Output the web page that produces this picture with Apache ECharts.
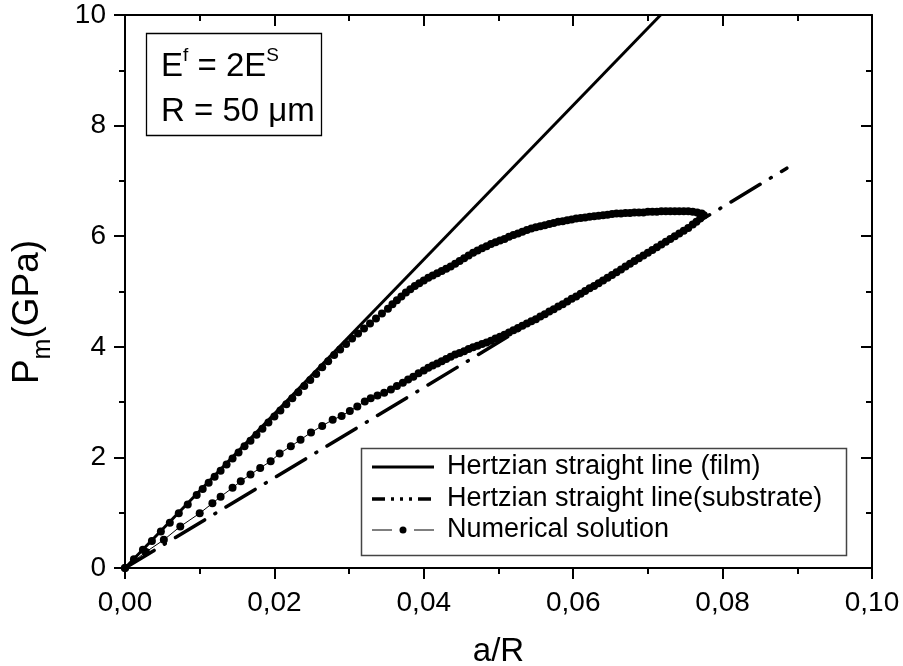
<!DOCTYPE html>
<html>
<head>
<meta charset="utf-8">
<script src="https://cdn.jsdelivr.net/npm/echarts@6/dist/echarts.min.js"></script>
<style>
  html, body { margin: 0; padding: 0; background: #fff; }
  #chart { width: 903px; height: 666px; }
</style>
</head>
<body>
<div id="chart"></div>
<script>
const FONT = 'Arial, "Liberation Sans", sans-serif';

// Hertzian straight lines: end points as (a/R, Pm in GPa)
const filmLine = [[0, 0], [0.0717, 10]];
const substrateLine = [[0, 0], [0.0886, 7.23]];

// Numerical solution, upper branch (from the origin to the tip)
const upperA = [0, 0.0012, 0.0024, 0.0036, 0.0048, 0.0060, 0.0072, 0.0084, 0.0096,
  0.0104, 0.0112, 0.0120, 0.0128, 0.0136, 0.0144, 0.0152, 0.0160, 0.0168, 0.0176,
  0.0184, 0.0192, 0.0200, 0.0208, 0.0216, 0.0224, 0.0232, 0.0240, 0.0248, 0.0256,
  0.0264, 0.0272, 0.0280, 0.0288, 0.0296, 0.0304, 0.0312, 0.0320, 0.0328, 0.0336,
  0.0344, 0.0352,
  0.0358, 0.0364, 0.0370, 0.0376, 0.0382, 0.0388, 0.0394, 0.0400, 0.0406, 0.0412,
  0.0418, 0.0424, 0.0430, 0.0436, 0.0442, 0.0448, 0.0454, 0.0460, 0.0466, 0.0472,
  0.0478, 0.0484, 0.0490, 0.0496, 0.0502, 0.0508, 0.0514, 0.0520, 0.0526, 0.0532,
  0.0538, 0.0544, 0.0550, 0.0556, 0.0562, 0.0568, 0.0574, 0.0580, 0.0586, 0.0592,
  0.0598, 0.0604, 0.0610, 0.0616, 0.0622, 0.0628, 0.0634, 0.0640, 0.0646, 0.0652,
  0.0658, 0.0664, 0.0670, 0.0676, 0.0682, 0.0688, 0.0694, 0.0700, 0.0706, 0.0712,
  0.0718, 0.0724, 0.0730, 0.0736, 0.0742, 0.0748, 0.0754, 0.0760, 0.0766, 0.0772];
const upperP = [0, 0.16, 0.33, 0.49, 0.66, 0.82, 0.99, 1.15, 1.32,
  1.43, 1.54, 1.65, 1.76, 1.87, 1.98, 2.09, 2.20, 2.30, 2.41,
  2.52, 2.63, 2.74, 2.85, 2.96, 3.07, 3.18, 3.29, 3.40, 3.51,
  3.63, 3.74, 3.85, 3.95, 4.05, 4.15, 4.24, 4.33, 4.42, 4.51,
  4.60, 4.69,
  4.77, 4.84, 4.91, 4.98, 5.04, 5.10, 5.15, 5.20, 5.25, 5.29,
  5.33, 5.37, 5.41, 5.45, 5.50, 5.55, 5.60, 5.65, 5.70, 5.74,
  5.78, 5.82, 5.86, 5.89, 5.92, 5.95, 5.99, 6.02, 6.05, 6.08,
  6.11, 6.14, 6.16, 6.18, 6.20, 6.22, 6.24, 6.26, 6.27, 6.29,
  6.30, 6.32, 6.33, 6.34, 6.35, 6.36, 6.37, 6.38, 6.39, 6.40,
  6.41, 6.41, 6.42, 6.42, 6.43, 6.43, 6.43, 6.44, 6.44, 6.44,
  6.45, 6.45, 6.45, 6.45, 6.45, 6.45, 6.45, 6.44, 6.43, 6.41];

// Numerical solution, lower branch (from the tip back to the origin)
const lowerA = [0.0775, 0.0770, 0.0765, 0.0760,
  0.0754, 0.0748, 0.0742, 0.0736, 0.0730, 0.0724, 0.0718, 0.0712, 0.0706, 0.0700,
  0.0694, 0.0688, 0.0682, 0.0676, 0.0670, 0.0664, 0.0658, 0.0652, 0.0646, 0.0640,
  0.0634, 0.0628, 0.0622, 0.0616, 0.0610, 0.0604, 0.0598, 0.0592, 0.0586, 0.0580,
  0.0574, 0.0568, 0.0562, 0.0556, 0.0550, 0.0544, 0.0538, 0.0532, 0.0526, 0.0520,
  0.0514, 0.0508, 0.0502, 0.0496, 0.0490, 0.0484, 0.0478, 0.0472, 0.0466, 0.0460,
  0.0454, 0.0448, 0.0442, 0.0436, 0.0430, 0.0424, 0.0418, 0.0412, 0.0406, 0.0400,
  0.0393, 0.0386, 0.0379, 0.0372, 0.0364, 0.0356, 0.0347, 0.0338, 0.0329, 0.0321,
  0.0311, 0.0301, 0.0290, 0.0278, 0.0264, 0.0249, 0.0235, 0.0222, 0.0207, 0.0195,
  0.0181, 0.0168, 0.0155, 0.0144, 0.0128, 0.0117, 0.0100, 0.0074, 0.0052,
  0.0028, 0];
const lowerP = [6.38, 6.32, 6.26, 6.21,
  6.15, 6.10, 6.05, 6.00, 5.95, 5.90, 5.85, 5.80, 5.75, 5.70,
  5.65, 5.60, 5.55, 5.50, 5.45, 5.40, 5.35, 5.30, 5.25, 5.20,
  5.15, 5.10, 5.06, 5.01, 4.96, 4.91, 4.87, 4.82, 4.77, 4.73,
  4.68, 4.64, 4.59, 4.55, 4.50, 4.46, 4.42, 4.38, 4.34, 4.30,
  4.26, 4.22, 4.18, 4.15, 4.11, 4.08, 4.05, 4.02, 3.99, 3.96,
  3.92, 3.89, 3.86, 3.82, 3.78, 3.74, 3.70, 3.66, 3.62, 3.57,
  3.52, 3.46, 3.41, 3.35, 3.29, 3.23, 3.17, 3.12, 3.07, 3.01,
  2.92, 2.84, 2.75, 2.68, 2.57, 2.45, 2.32, 2.20, 2.07, 1.93,
  1.81, 1.69, 1.57, 1.45, 1.29, 1.17, 0.99, 0.75, 0.51,
  0.29, 0];

// Tick labels
const xTickLabels = ['0,00', '0,02', '0,04', '0,06', '0,08', '0,10'];
const yTickLabels = ['0', '2', '4', '6', '8', '10'];

// Legend entries
const legendNames = ['Hertzian straight line (film)', 'Hertzian straight line(substrate)', 'Numerical solution'];

const numerical = upperA.map((a, i) => [a, upperP[i]])
  .concat(lowerA.map((a, i) => [a, lowerP[i]]));

const chart = echarts.init(document.getElementById('chart'), null, { renderer: 'canvas' });

const black = '#000';
const tickFont = { fontFamily: FONT, fontSize: 28, color: black };
const axisLineStyle = { color: black, width: 2 };

const option = {
  animation: false,
  backgroundColor: '#fff',
  grid: { left: 125, top: 15, width: 747, height: 553, containLabel: false, outerBoundsMode: 'none' },
  xAxis: [
    {
      type: 'value', min: 0, max: 0.1, interval: 0.02,
      axisLine: { show: true, onZero: false, lineStyle: axisLineStyle },
      axisTick: { show: true, inside: false, length: 11, lineStyle: axisLineStyle },
      minorTick: { show: true, splitNumber: 2, length: 6, lineStyle: axisLineStyle },
      splitLine: { show: false },
      axisLabel: Object.assign({ margin: 21, formatter: v => xTickLabels[Math.round(v / 0.02)] }, tickFont),
      name: 'a/R', nameLocation: 'middle', nameGap: 66,
      nameTextStyle: { fontFamily: FONT, fontSize: 33, color: black, lineHeight: 36 }
    },
    {
      type: 'value', min: 0, max: 0.1, interval: 0.02, position: 'top',
      axisLine: { show: true, onZero: false, lineStyle: axisLineStyle },
      axisTick: { show: true, inside: true, length: 11, lineStyle: axisLineStyle },
      minorTick: { show: true, splitNumber: 2, length: 6, lineStyle: axisLineStyle },
      splitLine: { show: false }, axisLabel: { show: false }
    }
  ],
  yAxis: [
    {
      type: 'value', min: 0, max: 10, interval: 2,
      axisLine: { show: true, onZero: false, lineStyle: axisLineStyle },
      axisTick: { show: true, inside: false, length: 11, lineStyle: axisLineStyle },
      minorTick: { show: true, splitNumber: 2, length: 6, lineStyle: axisLineStyle },
      splitLine: { show: false },
      axisLabel: Object.assign({ margin: 19, formatter: v => yTickLabels[Math.round(v / 2)] }, tickFont)
    },
    {
      type: 'value', min: 0, max: 10, interval: 2, position: 'right',
      axisLine: { show: true, onZero: false, lineStyle: axisLineStyle },
      axisTick: { show: true, inside: true, length: 11, lineStyle: axisLineStyle },
      minorTick: { show: true, splitNumber: 2, length: 6, lineStyle: axisLineStyle },
      splitLine: { show: false }, axisLabel: { show: false }
    }
  ],
  series: [
    {
      name: legendNames[2], type: 'line', data: numerical,
      showSymbol: true, showAllSymbol: true, symbol: 'circle', symbolSize: 8,
      itemStyle: { color: black }, lineStyle: { color: black, width: 1 },
      z: 2
    },
    {
      name: legendNames[0], type: 'line', data: filmLine, showSymbol: false,
      lineStyle: { color: black, width: 3 }, z: 3
    },
    {
      name: legendNames[1], type: 'line', data: substrateLine, showSymbol: false,
      lineStyle: { color: black, width: 3.5, type: [34, 12, 1, 12], cap: 'round' }, z: 3
    }
  ],
  graphic: [
    // y axis title, rotated to read upwards
    { type: 'text', x: 28, y: 312, rotation: Math.PI / 2, z: 11,
      style: { text: '{b|P}{s|m}{b|(GPa)}', align: 'center', verticalAlign: 'middle', fill: black,
        rich: {
          b: { fontFamily: FONT, fontSize: 37, lineHeight: 56, fill: black },
          s: { fontFamily: FONT, fontSize: 25, lineHeight: 25, verticalAlign: 'bottom', fill: black }
        } } },

    // parameter box
    { type: 'rect', shape: { x: 146.5, y: 33.5, width: 175, height: 102 },
      style: { fill: '#fff', stroke: black, lineWidth: 1.3 }, z: 10 },
    { type: 'text', x: 161, y: 67, z: 11,
      style: { text: '{n|E}{p|f}{n| = 2E}{p|S}', verticalAlign: 'middle', fill: black,
        rich: {
          n: { fontFamily: FONT, fontSize: 33, lineHeight: 42, fill: black },
          p: { fontFamily: FONT, fontSize: 19, lineHeight: 19, verticalAlign: 'top', fill: black }
        } } },
    { type: 'text', x: 161, y: 112, z: 11,
      style: { text: 'R = 50 μm', fontFamily: FONT, fontSize: 33, fill: black, verticalAlign: 'middle' } },

    // legend box
    { type: 'rect', shape: { x: 361.5, y: 448.5, width: 485, height: 107 },
      style: { fill: '#fff', stroke: '#444', lineWidth: 1.5 }, z: 10 },
    { type: 'line', shape: { x1: 372, y1: 467, x2: 434, y2: 467 },
      style: { stroke: black, lineWidth: 3 }, z: 11 },
    { type: 'line', shape: { x1: 372, y1: 499, x2: 434, y2: 499 },
      style: { stroke: black, lineWidth: 3.5, lineDash: [13, 6, 3, 6, 3, 6, 3, 6] }, z: 11 },
    { type: 'line', shape: { x1: 372, y1: 530, x2: 392, y2: 530 },
      style: { stroke: black, lineWidth: 1 }, z: 11 },
    { type: 'circle', shape: { cx: 403, cy: 530, r: 3.5 },
      style: { fill: black }, z: 11 },
    { type: 'line', shape: { x1: 414, y1: 530, x2: 434, y2: 530 },
      style: { stroke: black, lineWidth: 1 }, z: 11 },
    { type: 'text', x: 447, y: 467, z: 11,
      style: { text: legendNames[0], fontFamily: FONT, fontSize: 27, fill: black, verticalAlign: 'middle' } },
    { type: 'text', x: 447, y: 499, z: 11,
      style: { text: legendNames[1], fontFamily: FONT, fontSize: 27, fill: black, verticalAlign: 'middle' } },
    { type: 'text', x: 447, y: 530, z: 11,
      style: { text: legendNames[2], fontFamily: FONT, fontSize: 27, fill: black, verticalAlign: 'middle' } }
  ]
};

chart.setOption(option);
</script>
</body>
</html>
